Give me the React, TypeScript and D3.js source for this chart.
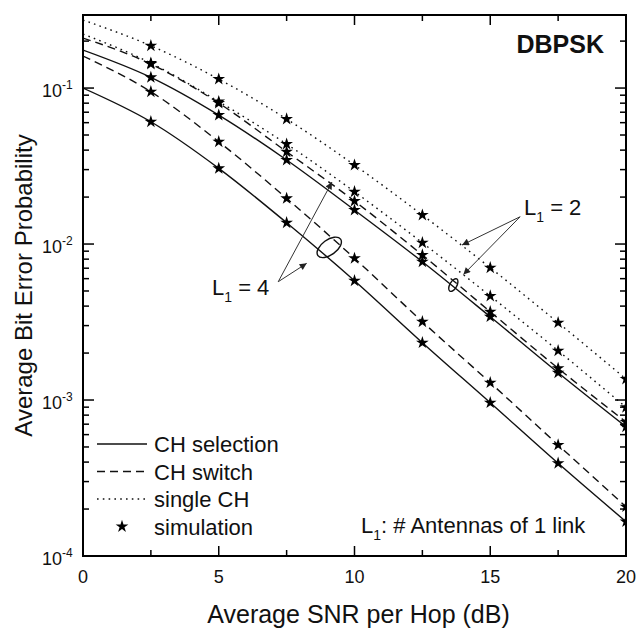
import React from "react";
import * as d3 from "d3";

const snr = [0, 2.5, 5, 7.5, 10, 12.5, 15, 17.5, 20];
const simSnr = [2.5, 5, 7.5, 10, 12.5, 15, 17.5, 20];

// L1 = 2
const l2Single = [0.2729, 0.1867, 0.1142, 0.0633, 0.03209, 0.01534, 0.007047, 0.00313, 0.001363];
const l2Switch = [0.2092, 0.1425, 0.0801, 0.03905, 0.01886, 0.008502, 0.003681, 0.001597, 0.000723];
const l2Select = [0.1752, 0.1171, 0.0671, 0.03455, 0.01651, 0.0077, 0.00342, 0.001496, 0.000674];
// L1 = 4
const l4Single = [0.222, 0.1446, 0.0819, 0.04375, 0.02164, 0.01019, 0.004642, 0.00207, 0.000898];
const l4Switch = [0.1604, 0.0947, 0.04527, 0.01963, 0.008099, 0.003176, 0.001291, 0.000515, 0.000207];
const l4Select = [0.1, 0.0608, 0.03056, 0.01369, 0.005817, 0.002331, 0.000961, 0.000393, 0.000166];

// simulation points (2.5 .. 20 dB)
const simL2Single = [0.1867, 0.1142, 0.0633, 0.03209, 0.01534, 0.007047, 0.00313, 0.001363];
const simL2Switch = [0.1425, 0.0801, 0.03905, 0.01886, 0.008502, 0.003681, 0.001597, 0.000723];
const simL2Select = [0.1171, 0.0671, 0.03455, 0.01651, 0.0077, 0.00342, 0.001496, 0.000674];
const simL4Single = [0.1446, 0.0819, 0.04375, 0.02164, 0.01019, 0.004642, 0.00207, 0.000898];
const simL4Switch = [0.0947, 0.04527, 0.01963, 0.008099, 0.003176, 0.001291, 0.000515, 0.000207];
const simL4Select = [0.0608, 0.03056, 0.01369, 0.005817, 0.002331, 0.000961, 0.000393, 0.000166];

const xMajor = [0, 5, 10, 15, 20];
const xMinor = [2.5, 7.5, 12.5, 17.5];
const yMajor = [1e-4, 1e-3, 1e-2, 1e-1];
const yMajorExp = ["-4", "-3", "-2", "-1"];

const W = 638, H = 628;
const L = 83, R = 626, T = 15, B = 556;
const FONT = "Arial, 'Liberation Sans', Helvetica, sans-serif";

export default function App() {
  const x = d3.scaleLinear().domain([0, 20]).range([L, R]);
  const y = d3.scaleLog().domain([1e-4, 0.294]).range([B, T]);

  const yMinor: number[] = [];
  [1e-4, 1e-3, 1e-2, 1e-1].forEach((d) => {
    for (let k = 2; k <= 9; k++) {
      const v = d * k;
      if (v <= 0.294) yMinor.push(v);
    }
  });

  const line = d3
    .line<number>()
    .x((_, i) => x(snr[i]))
    .y((v) => y(v))
    .curve(d3.curveMonotoneX);

  const series = [
    { data: l2Single, dash: "1.6 4.2" },
    { data: l4Single, dash: "1.6 4.2" },
    { data: l2Switch, dash: "8 5" },
    { data: l4Switch, dash: "8 5" },
    { data: l2Select, dash: "" },
    { data: l4Select, dash: "" },
  ];
  const sims = [simL2Single, simL4Single, simL2Switch, simL2Select, simL4Switch, simL4Select];

  const star = d3.symbol().type(d3.symbolStar).size(50)() as string;

  const ann4 = { sx: 7.19, sy: 0.005731, t1x: 9.17, t1y: 0.02495, t2x: 8.24, t2y: 0.00752, ex: 9.07, ey: 0.00952 };
  const ann2 = { sx: 16.1, sy: 0.01496, t1x: 13.96, t1y: 0.00985, t2x: 14.01, t2y: 0.00637, ex: 13.64, ey: 0.005459 };

  const legendX1 = 97, legendX2 = 147, legendTx = 154;
  const legendRows = [
    { label: "CH selection", dash: "", y: 444 },
    { label: "CH switch", dash: "8 5", y: 471.5 },
    { label: "single CH", dash: "1.6 4.2", y: 499 },
  ];

  return (
    <svg width={W} height={H} style={{ position: "absolute", left: 0, top: 0 }} fontFamily={FONT}>
      <rect x={0} y={0} width={W} height={H} fill="#fff" />
      <defs>
        <clipPath id="plot">
          <rect x={L} y={T} width={R - L} height={B - T} />
        </clipPath>
        <marker id="arr" viewBox="0 0 10 10" refX="10" refY="5" markerWidth="11" markerHeight="7" markerUnits="userSpaceOnUse" orient="auto">
          <path d="M0,0 L10,5 L0,10 z" fill="#222" />
        </marker>
      </defs>

      {/* curves */}
      <g clipPath="url(#plot)">
        {series.map((s, i) => (
          <path key={i} d={line(s.data) as string} fill="none" stroke="#111" strokeWidth={1.4} strokeDasharray={s.dash || undefined} />
        ))}
        {sims.map((arr, i) =>
          arr.map((v, j) => (
            <path key={`${i}-${j}`} d={star} transform={`translate(${x(simSnr[j])},${y(v)})`} fill="#000" />
          ))
        )}
      </g>

      {/* ticks */}
      {xMajor.map((d) => (
        <g key={`xm${d}`}>
          <line x1={x(d)} x2={x(d)} y1={B} y2={B - 10} stroke="#000" strokeWidth={1.5} />
          <line x1={x(d)} x2={x(d)} y1={T} y2={T + 10} stroke="#000" strokeWidth={1.5} />
          <text x={x(d)} y={583} fontSize={18} textAnchor="middle" fill="#111">{d}</text>
        </g>
      ))}
      {xMinor.map((d) => (
        <g key={`xn${d}`}>
          <line x1={x(d)} x2={x(d)} y1={B} y2={B - 6} stroke="#000" strokeWidth={1.5} />
          <line x1={x(d)} x2={x(d)} y1={T} y2={T + 6} stroke="#000" strokeWidth={1.5} />
        </g>
      ))}
      {yMajor.map((d, i) => (
        <g key={`ym${d}`}>
          <line x1={L} x2={L + 11} y1={y(d)} y2={y(d)} stroke="#000" strokeWidth={1.5} />
          <line x1={R} x2={R - 11} y1={y(d)} y2={y(d)} stroke="#000" strokeWidth={1.5} />
          <text x={42} y={y(d) + 9} fontSize={18} fill="#111">
            10<tspan fontSize={12} dy={-8}>{yMajorExp[i]}</tspan>
          </text>
        </g>
      ))}
      {yMinor.map((d) => (
        <g key={`yn${d}`}>
          <line x1={L} x2={L + 6} y1={y(d)} y2={y(d)} stroke="#000" strokeWidth={1.5} />
          <line x1={R} x2={R - 6} y1={y(d)} y2={y(d)} stroke="#000" strokeWidth={1.5} />
        </g>
      ))}

      {/* frame */}
      <rect x={L} y={T} width={R - L} height={B - T} fill="none" stroke="#000" strokeWidth={2} />

      {/* axis labels */}
      <text x={(L + R) / 2 + 4} y={623} fontSize={25} textAnchor="middle" fill="#111">Average SNR per Hop (dB)</text>
      <text transform={`translate(32,${(T + B) / 2}) rotate(-90)`} fontSize={24} textAnchor="middle" fill="#111">
        Average Bit Error Probability
      </text>

      <text x={604} y={53} fontSize={25} fontWeight="bold" textAnchor="end" fill="#111">DBPSK</text>

      {/* annotations */}
      <g stroke="#333" strokeWidth={1} fill="none">
        <line x1={x(ann4.sx)} y1={y(ann4.sy)} x2={x(ann4.t1x)} y2={y(ann4.t1y)} markerEnd="url(#arr)" />
        <line x1={x(ann4.sx)} y1={y(ann4.sy)} x2={x(ann4.t2x)} y2={y(ann4.t2y)} markerEnd="url(#arr)" />
        <ellipse cx={0} cy={0} rx={14} ry={7.5} stroke="#111" strokeWidth={1.4} transform={`translate(${x(ann4.ex)},${y(ann4.ey)}) rotate(-36)`} />
        <line x1={x(ann2.sx)} y1={y(ann2.sy)} x2={x(ann2.t1x)} y2={y(ann2.t1y)} markerEnd="url(#arr)" />
        <line x1={x(ann2.sx)} y1={y(ann2.sy)} x2={x(ann2.t2x)} y2={y(ann2.t2y)} markerEnd="url(#arr)" />
        <ellipse cx={0} cy={0} rx={3.5} ry={7} stroke="#111" strokeWidth={1.4} transform={`translate(${x(ann2.ex)},${y(ann2.ey)}) rotate(30)`} />
      </g>
      <text x={212} y={295} fontSize={22} fill="#111">
        L<tspan fontSize={14} dy={7}>1</tspan><tspan dy={-7}> = 4</tspan>
      </text>
      <text x={524} y={215} fontSize={22} fill="#111">
        L<tspan fontSize={14} dy={7}>1</tspan><tspan dy={-7}> = 2</tspan>
      </text>
      <text x={361} y={533} fontSize={22} fill="#111">
        L<tspan fontSize={14} dy={7}>1</tspan><tspan dy={-7}>: # Antennas of 1 link</tspan>
      </text>

      {/* legend */}
      {legendRows.map((r) => (
        <g key={r.label}>
          <line x1={legendX1} x2={legendX2} y1={r.y} y2={r.y} stroke="#111" strokeWidth={1.4} strokeDasharray={r.dash || undefined} />
          <text x={legendTx} y={r.y + 8} fontSize={22} fill="#111">{r.label}</text>
        </g>
      ))}
      <path d={star} transform={`translate(${(legendX1 + legendX2) / 2},526.5)`} fill="#000" />
      <text x={legendTx} y={534.5} fontSize={22} fill="#111">simulation</text>
    </svg>
  );
}
